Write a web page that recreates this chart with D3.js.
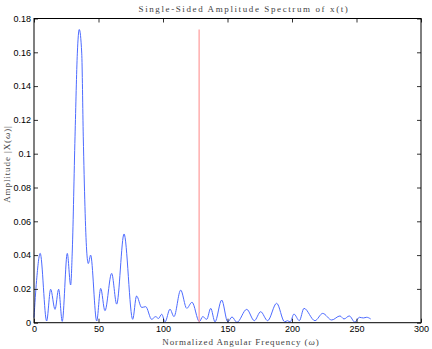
<!DOCTYPE html>
<html lang="en">
  <head>
    <meta charset="UTF-8" />
    <title>Single-Sided Amplitude Spectrum</title>
    <script src="https://cdn.jsdelivr.net/npm/d3@7"></script>
    <style>
      body { margin: 0; background: #fff; }
      .tick text { font-family: "Liberation Sans", Arial, sans-serif; font-size: 9px; fill: #000; }
      .latex { font-family: "Liberation Serif", "DejaVu Serif", serif; fill: #444; letter-spacing: 0.9px; }
    </style>
  </head>
  <body>
    <script>
      // spectrum (peaks and troughs)
      const freq = [0, 2, 4.8, 9.8, 12.9, 16.3, 19.1, 21.9, 25.8, 28.4, 29.7, 31.8, 33.6, 35.1, 37, 38.2, 40.8, 42.1, 43.9,
        48.6, 51.7, 55, 60.2, 64.1, 69.8, 76.5, 79.5, 83.5, 86.6, 91.2, 94.3, 96.5, 99, 101.6, 105.4, 108.5, 113.7,
        118.4, 122.5, 128.2, 130.8, 133.9, 137, 140.3, 145.5, 150.2, 153.5, 157.3, 164.9, 170.8, 175.7, 181.1, 188.1,
        194.3, 196.5, 198.6, 201.5, 205.7, 209.3, 217.8, 223.8, 230.8, 237.2, 240.3, 244.4, 248.8, 252.2, 255.3, 257.9, 261];
      const amp = [0.003, 0.025, 0.041, 0.001, 0.0198, 0.0079, 0.0198, 0.0008, 0.041, 0.0223, 0.043, 0.11, 0.1595, 0.1735, 0.1595, 0.11, 0.043, 0.035, 0.040,
        0.001, 0.0203, 0.0071, 0.0292, 0.011, 0.0525, 0.002, 0.0158, 0.009, 0.0095, 0.002, 0.0036, 0.0025, 0.005, 0.0005, 0.008, 0.0036, 0.0193,
        0.0085, 0.0121, 0.0006, 0.0036, 0.002, 0.0085, 0.0005, 0.0134, 0.0005, 0.0034, 0.0002, 0.0079, 0.0012, 0.0065, 0.0012, 0.0115,
        0.0005, 0.0012, 0.0004, 0.0051, 0.0012, 0.0085, 0.0012, 0.0055, 0.0016, 0.004, 0.0022, 0.004, 0.0003, 0.0032, 0.0028, 0.0032, 0.0022];

      // red marker line
      const markerFreq = 128;
      const markerAmp = 0.1735;

      const xTicks = [0, 50, 100, 150, 200, 250, 300];
      const yTicks = [0, 0.02, 0.04, 0.06, 0.08, 0.1, 0.12, 0.14, 0.16, 0.18];
      const yTickLabels = ["0", "0.02", "0.04", "0.06", "0.08", "0.1", "0.12", "0.14", "0.16", "0.18"];

      const width = 432;
      const height = 349;
      const plotLeft = 34, plotRight = 421, plotTop = 18.5, plotBottom = 322.7;

      const svg = d3.select("body").append("svg")
        .attr("width", width)
        .attr("height", height);

      const x = d3.scaleLinear().domain([0, 300]).range([plotLeft, plotRight]);
      const y = d3.scaleLinear().domain([0, 0.18]).range([plotBottom, plotTop]);

      const points = freq.map((f, i) => [f, amp[i]]);

      // spectrum line
      svg.append("path")
        .datum(points)
        .attr("fill", "none")
        .attr("stroke", "#4d6bff")
        .attr("stroke-width", 1)
        .attr("d", d3.line().x((d) => x(d[0])).y((d) => y(d[1])).curve(d3.curveMonotoneX));

      // marker
      svg.append("line")
        .attr("x1", x(markerFreq)).attr("x2", x(markerFreq))
        .attr("y1", y(0)).attr("y2", y(markerAmp))
        .attr("stroke", "#ff9a9a")
        .attr("stroke-width", 1.2);

      // axes, ticks pointing inward on all four sides
      const tick = 4;
      svg.append("g")
        .attr("transform", `translate(0,${plotBottom})`)
        .call(d3.axisBottom(x).tickValues(xTicks).tickSize(-tick).tickSizeOuter(0).tickPadding(3).tickFormat(d3.format("d")));
      svg.append("g")
        .attr("transform", `translate(0,${plotTop})`)
        .call(d3.axisTop(x).tickValues(xTicks).tickSize(-tick).tickSizeOuter(0).tickFormat(""));
      svg.append("g")
        .attr("transform", `translate(${plotLeft},0)`)
        .call(d3.axisLeft(y).tickValues(yTicks).tickSize(-tick).tickSizeOuter(0).tickPadding(3)
          .tickFormat((d, i) => yTickLabels[i]));
      svg.append("g")
        .attr("transform", `translate(${plotRight},0)`)
        .call(d3.axisRight(y).tickValues(yTicks).tickSize(-tick).tickSizeOuter(0).tickFormat(""));

      svg.selectAll(".domain").remove();
      svg.selectAll(".tick line").attr("stroke", "#000").attr("stroke-width", 0.8);

      svg.append("rect")
        .attr("x", plotLeft).attr("y", plotTop)
        .attr("width", plotRight - plotLeft).attr("height", plotBottom - plotTop)
        .attr("fill", "none")
        .attr("stroke", "#000")
        .attr("stroke-width", 1);

      // labels
      svg.append("text")
        .attr("class", "latex")
        .attr("x", 244).attr("y", 12)
        .attr("text-anchor", "middle")
        .attr("font-size", 9)
        .style("letter-spacing", "1.6px")
        .text("Single-Sided Amplitude Spectrum of x(t)");

      const xl = svg.append("text")
        .attr("class", "latex")
        .attr("x", 241).attr("y", 345)
        .attr("text-anchor", "middle")
        .attr("font-size", 9)
        .text("Normalized Angular Frequency (");
      xl.append("tspan").attr("font-style", "italic").text("ω");
      xl.append("tspan").text(")");

      const yl = svg.append("text")
        .attr("class", "latex")
        .attr("transform", "translate(10,164) rotate(-90)")
        .attr("text-anchor", "middle")
        .attr("font-size", 9)
        .text("Amplitude |X(");
      yl.append("tspan").attr("font-style", "italic").text("ω");
      yl.append("tspan").text(")|");
    </script>
  </body>
</html>
